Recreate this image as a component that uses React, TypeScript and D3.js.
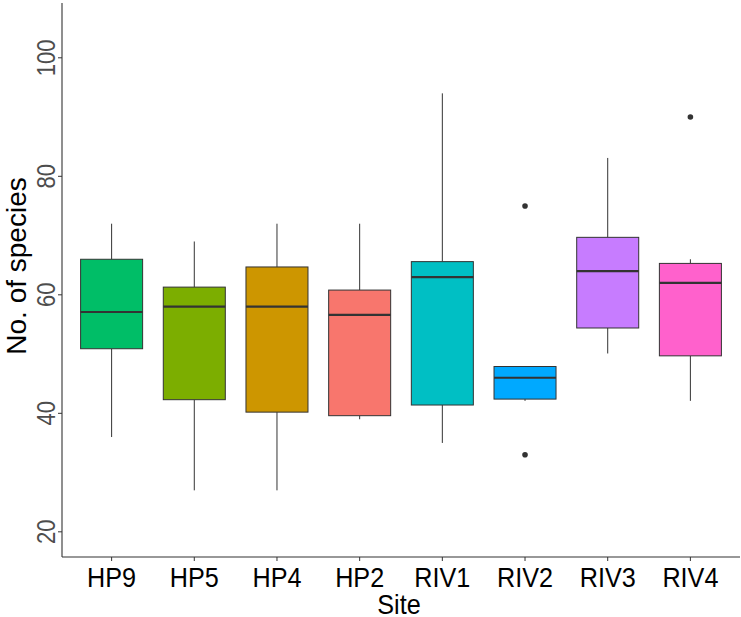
import React, { useEffect, useRef } from 'react';
import * as d3 from 'd3';

const sites = ['HP9', 'HP5', 'HP4', 'HP2', 'RIV1', 'RIV2', 'RIV3', 'RIV4'];
const colors = ['#00BE67', '#7CAE00', '#CD9600', '#F8766D', '#00BFC4', '#00A9FF', '#C77CFF', '#FF61CC'];
const lowerWhisker = [36, 27, 27, 39, 35, 42.1, 50.1, 42.1];
const q1 = [50.9, 42.3, 40.2, 39.6, 41.4, 42.4, 54.4, 49.7];
const medians = [57.1, 58, 58, 56.6, 63, 46, 64, 62];
const q3 = [66, 61.3, 64.7, 60.8, 65.6, 47.9, 69.7, 65.3];
const upperWhisker = [72, 69, 72, 72, 94, 47.9, 83.1, 66];
const outliers = [
  { site: 'RIV2', value: 75 },
  { site: 'RIV2', value: 33 },
  { site: 'RIV4', value: 90 },
];
const yTicks = [20, 40, 60, 80, 100];

const App = () => {
  const ref = useRef<HTMLDivElement>(null);

  useEffect(() => {
    d3.select(ref.current).selectAll('*').remove();

    const width = 741;
    const height = 617;
    const left = 62;
    const right = 740;
    const top = 3;
    const bottom = 557;
    const font = 'Liberation Sans, Arial, sans-serif';

    const svg = d3
      .select(ref.current)
      .append('svg')
      .attr('width', width)
      .attr('height', height)
      .style('display', 'block');

    svg.append('rect').attr('width', width).attr('height', height).attr('fill', 'white');

    // discrete scale with 0.6 units of expansion on each side (like ggplot)
    const x = d3
      .scaleBand()
      .domain(sites)
      .range([left, right])
      .paddingInner(0)
      .paddingOuter(0.1);
    const cx = (s: string) => (x(s) as number) + x.bandwidth() / 2;
    const boxW = x.bandwidth() * 0.75;

    const y = d3.scaleLinear().domain([15.75, 109.25]).range([bottom, top]);

    const g = svg.append('g');

    sites.forEach((s, i) => {
      const c = cx(s);
      // whiskers
      g.append('line')
        .attr('x1', c).attr('x2', c)
        .attr('y1', y(q3[i])).attr('y2', y(upperWhisker[i]))
        .attr('stroke', '#333').attr('stroke-width', 1);
      g.append('line')
        .attr('x1', c).attr('x2', c)
        .attr('y1', y(q1[i])).attr('y2', y(lowerWhisker[i]))
        .attr('stroke', '#333').attr('stroke-width', 1);
      // box
      g.append('rect')
        .attr('x', c - boxW / 2)
        .attr('y', y(q3[i]))
        .attr('width', boxW)
        .attr('height', y(q1[i]) - y(q3[i]))
        .attr('fill', colors[i])
        .attr('stroke', '#333')
        .attr('stroke-width', 1);
      // median
      g.append('line')
        .attr('x1', c - boxW / 2).attr('x2', c + boxW / 2)
        .attr('y1', y(medians[i])).attr('y2', y(medians[i]))
        .attr('stroke', '#333').attr('stroke-width', 2.2);
    });

    g.selectAll('circle.out')
      .data(outliers)
      .enter()
      .append('circle')
      .attr('cx', (d) => cx(d.site))
      .attr('cy', (d) => y(d.value))
      .attr('r', 2.8)
      .attr('fill', '#333');

    // axis lines
    svg.append('line')
      .attr('x1', left).attr('x2', left).attr('y1', top).attr('y2', bottom)
      .attr('stroke', '#333').attr('stroke-width', 1.1);
    svg.append('line')
      .attr('x1', left).attr('x2', right).attr('y1', bottom).attr('y2', bottom)
      .attr('stroke', '#333').attr('stroke-width', 1.1);

    // y ticks
    yTicks.forEach((t) => {
      svg.append('line')
        .attr('x1', left - 4).attr('x2', left)
        .attr('y1', y(t)).attr('y2', y(t))
        .attr('stroke', '#333').attr('stroke-width', 1);
      svg.append('text')
        .attr('transform', `translate(55, ${y(t)}) rotate(-90) scale(0.88, 1)`)
        .attr('text-anchor', 'middle')
        .attr('font-family', font)
        .attr('font-size', 25)
        .attr('fill', '#4D4D4D')
        .text(t);
    });

    // x ticks
    sites.forEach((s) => {
      svg.append('line')
        .attr('x1', cx(s)).attr('x2', cx(s))
        .attr('y1', bottom).attr('y2', bottom + 4)
        .attr('stroke', '#333').attr('stroke-width', 1);
      svg.append('text')
        .attr('transform', `translate(${cx(s)}, 587) scale(0.9, 1)`)
        .attr('text-anchor', 'middle')
        .attr('font-family', font)
        .attr('font-size', 28)
        .attr('fill', 'black')
        .text(s);
    });

    // axis titles
    svg.append('text')
      .attr('transform', `translate(399, 614) scale(0.9, 1)`)
      .attr('text-anchor', 'middle')
      .attr('font-family', font)
      .attr('font-size', 28)
      .attr('fill', 'black')
      .text('Site');

    svg.append('text')
      .attr('transform', `translate(26, 266) rotate(-90)`)
      .attr('text-anchor', 'middle')
      .attr('font-family', font)
      .attr('font-size', 28)
      .attr('fill', 'black')
      .text('No. of species');
  }, []);

  return <div ref={ref} style={{ position: 'absolute', left: 0, top: 0 }} />;
};

export default App;
